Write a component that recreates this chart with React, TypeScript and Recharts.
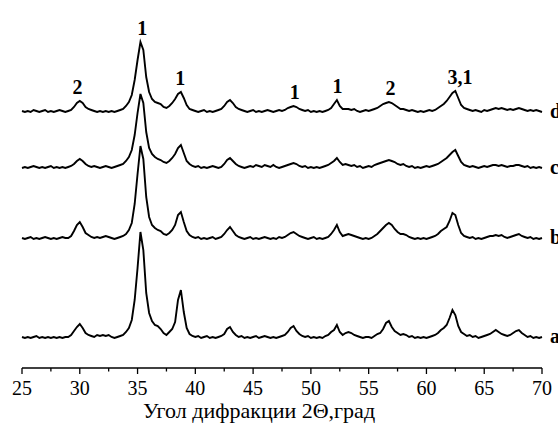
import { LineChart, Line, XAxis, YAxis, ReferenceDot } from 'recharts';

// 2θ scan grid, 0.25° step
const angles = Array.from({ length: 181 }, (_, i) => 25 + i * 0.25);

// intensities above each trace's own baseline, one row per 5°
const traceA = [
  1, 0, 1, 0, 1, 2, 0, 1, 0, 1, 0, 1, 0, 1, 0, 1, 1, 3, 7, 11,
  14, 10, 5, 3, 2, 1, 3, 2, 3, 2, 3, 1, 0, 1, 2, 3, 6, 10, 18, 38,
  70, 106, 88, 45, 25, 17, 13, 12, 9, 5, 3, 6, 9, 16, 38, 48, 26, 10, 4, 2,
  1, 2, 0, 1, 2, 0, 1, 0, 1, 2, 4, 9, 11, 6, 3, 1, 2, 0, 1, 0,
  1, 2, 0, 1, 2, 1, 0, 1, 0, 1, 2, 3, 6, 10, 12, 7, 4, 2, 1, 2,
  0, 1, 0, 1, 0, 2, 3, 6, 8, 13, 6, 3, 5, 6, 5, 3, 2, 1, 0, 1,
  1, 0, 2, 4, 5, 9, 15, 17, 11, 7, 5, 3, 4, 3, 1, 2, 0, 1, 0, 1,
  0, 1, 2, 3, 5, 8, 10, 13, 20, 28, 23, 12, 6, 4, 2, 3, 1, 2, 0, 1,
  2, 3, 4, 6, 8, 6, 4, 3, 2, 3, 5, 7, 8, 5, 3, 1, 2, 0, 1, 0, 1,
];
const traceB = [
  1, 0, 1, 2, 0, 1, 0, 1, 2, 1, 0, 1, 0, 1, 2, 1, 1, 3, 8, 14,
  17, 12, 6, 4, 2, 1, 2, 1, 2, 3, 2, 1, 0, 1, 2, 3, 5, 9, 16, 35,
  65, 93, 80, 42, 22, 14, 11, 9, 8, 5, 4, 6, 9, 14, 24, 27, 17, 8, 4, 2,
  1, 2, 0, 1, 0, 1, 2, 0, 1, 2, 5, 9, 12, 8, 4, 2, 1, 0, 1, 2,
  0, 1, 0, 1, 2, 1, 0, 1, 0, 2, 1, 2, 4, 6, 7, 5, 3, 2, 1, 0,
  1, 2, 0, 1, 0, 1, 2, 5, 9, 14, 7, 3, 4, 5, 4, 3, 2, 1, 0, 1,
  0, 1, 3, 5, 8, 11, 14, 16, 14, 10, 7, 5, 5, 4, 2, 1, 0, 1, 0, 1,
  0, 1, 2, 3, 5, 8, 10, 12, 18, 26, 24, 14, 6, 3, 2, 1, 2, 0, 1, 0,
  1, 2, 3, 3, 4, 3, 4, 2, 1, 2, 3, 4, 5, 3, 2, 1, 2, 0, 1, 0, 1,
];
const traceC = [
  0, 1, 0, 1, 2, 1, 0, 1, 0, 1, 2, 0, 1, 0, 1, 0, 1, 2, 4, 7,
  9, 7, 4, 2, 1, 2, 1, 0, 1, 2, 1, 0, 1, 2, 3, 4, 7, 11, 18, 33,
  55, 74, 65, 36, 20, 14, 11, 9, 8, 6, 5, 7, 10, 14, 20, 23, 15, 7, 4, 2,
  1, 2, 0, 1, 0, 1, 2, 1, 0, 1, 4, 8, 10, 7, 4, 2, 1, 0, 1, 2,
  1, 3, 2, 1, 3, 2, 1, 3, 1, 0, 1, 2, 3, 4, 5, 4, 2, 1, 2, 0,
  1, 0, 1, 0, 1, 2, 3, 5, 7, 10, 6, 3, 4, 3, 2, 3, 1, 2, 0, 1,
  2, 1, 3, 4, 5, 6, 7, 8, 7, 6, 4, 3, 4, 2, 1, 2, 0, 1, 0, 1,
  2, 1, 2, 3, 4, 6, 8, 10, 13, 16, 18, 12, 6, 3, 2, 1, 2, 1, 0, 1,
  2, 1, 2, 3, 3, 2, 3, 2, 1, 2, 2, 3, 3, 2, 1, 2, 0, 1, 0, 1, 0,
];
const traceD = [
  1, 0, 1, 0, 2, 1, 0, 1, 2, 0, 1, 0, 1, 2, 1, 0, 1, 2, 5, 9,
  11, 9, 5, 3, 2, 1, 0, 1, 0, 1, 0, 1, 0, 1, 2, 3, 6, 10, 17, 32,
  52, 70, 62, 35, 20, 13, 10, 9, 8, 5, 4, 6, 9, 13, 18, 20, 14, 7, 3, 2,
  1, 0, 1, 2, 0, 1, 0, 1, 2, 3, 6, 10, 12, 9, 5, 3, 2, 1, 0, 1,
  2, 0, 1, 0, 1, 2, 1, 0, 1, 2, 1, 2, 4, 5, 6, 5, 3, 2, 1, 2,
  0, 1, 0, 1, 0, 1, 2, 4, 8, 12, 6, 3, 3, 3, 2, 3, 1, 0, 1, 2,
  1, 2, 3, 4, 6, 8, 9, 10, 9, 7, 5, 3, 3, 2, 1, 2, 1, 0, 1, 0,
  1, 2, 1, 2, 4, 6, 8, 11, 15, 19, 21, 14, 7, 4, 3, 2, 1, 2, 1, 0,
  2, 1, 2, 3, 4, 3, 4, 3, 2, 3, 2, 3, 4, 3, 2, 1, 2, 1, 2, 1, 0,
];

const seriesNames = ['a', 'b', 'c', 'd'];
const xTicks = [25, 27.5, 30, 32.5, 35, 37.5, 40, 42.5, 45, 47.5, 50, 52.5, 55, 57.5, 60, 62.5, 65, 67.5, 70];

// phase marks over the top pattern
const peakAngles = [29.8, 35.4, 38.7, 48.6, 52.3, 56.9, 62.9];
const peakTexts = ['2', '1', '1', '1', '1', '2', '3,1'];

// vertical shift of each pattern (stacked display)
const offsets: Record<string, number> = { a: 30, b: 129, c: 200, d: 256 };
const traces: Record<string, number[]> = { a: traceA, b: traceB, c: traceC, d: traceD };

const data = angles.map((angle, i) => ({
  angle,
  a: traceA[i] + offsets.a,
  b: traceB[i] + offsets.b,
  c: traceC[i] + offsets.c,
  d: traceD[i] + offsets.d,
}));

const serif = '"Liberation Serif", "Times New Roman", serif';

function peakTop(angle: number) {
  let m = 0;
  angles.forEach((a, i) => {
    if (Math.abs(a - angle) <= 0.6) m = Math.max(m, traceD[i]);
  });
  return offsets.d + m + 14;
}

const renderTick = (props: any) => {
  const { x, y, payload } = props;
  const major = payload.value % 5 === 0;
  return (
    <g>
      <line x1={x} x2={x} y1={y} y2={y + (major ? 6 : 3.5)} stroke="#000" strokeWidth={1.3} />
      {major && (
        <text x={x} y={y + 27} textAnchor="middle" fontSize={20} fontFamily={serif} fill="#000">
          {payload.value}
        </text>
      )}
    </g>
  );
};

const renderTitle = (props: any) => {
  const { viewBox } = props;
  return (
    <text
      x={viewBox.x + viewBox.width / 2 - 23}
      y={viewBox.y + 50}
      textAnchor="middle"
      fontSize={22}
      fontFamily={serif}
      fill="#000"
    >
      Угол дифракции 2Θ,град
    </text>
  );
};

export default function App() {
  return (
    <div style={{ position: 'absolute', left: 0, top: 0, width: 558, height: 424, background: '#fff' }}>
      <LineChart width={558} height={424} data={data} margin={{ top: 20, right: 16, left: 22, bottom: 16 }}>
        <XAxis
          type="number"
          dataKey="angle"
          domain={[25, 70]}
          ticks={xTicks}
          interval={0}
          tick={renderTick}
          tickLine={false}
          tickSize={0}
          tickMargin={0}
          height={40}
          axisLine={{ stroke: '#000', strokeWidth: 1.3 }}
          label={renderTitle}
        />
        <YAxis type="number" domain={[0, 348]} hide />
        {seriesNames.map(name => (
          <Line
            key={name}
            type="linear"
            dataKey={name}
            stroke="#000"
            strokeWidth={1.9}
            dot={false}
            isAnimationActive={false}
          />
        ))}
        {peakAngles.map((angle, i) => (
          <ReferenceDot
            key={'p' + i}
            x={angle}
            y={peakTop(angle)}
            r={0}
            ifOverflow="visible"
            shape={(p: any) => (
              <text x={p.cx} y={p.cy + 7} textAnchor="middle" fontSize={20} fontWeight="bold" fontFamily={serif} fill="#000">
                {peakTexts[i]}
              </text>
            )}
          />
        ))}
        {seriesNames.map(name => (
          <ReferenceDot
            key={'s' + name}
            x={70}
            y={offsets[name] + traces[name][traces[name].length - 1]}
            r={0}
            ifOverflow="visible"
            shape={(p: any) => (
              <text x={p.cx + 8} y={p.cy + 6} textAnchor="start" fontSize={20} fontWeight="bold" fontFamily={serif} fill="#000">
                {name}
              </text>
            )}
          />
        ))}
      </LineChart>
    </div>
  );
}
